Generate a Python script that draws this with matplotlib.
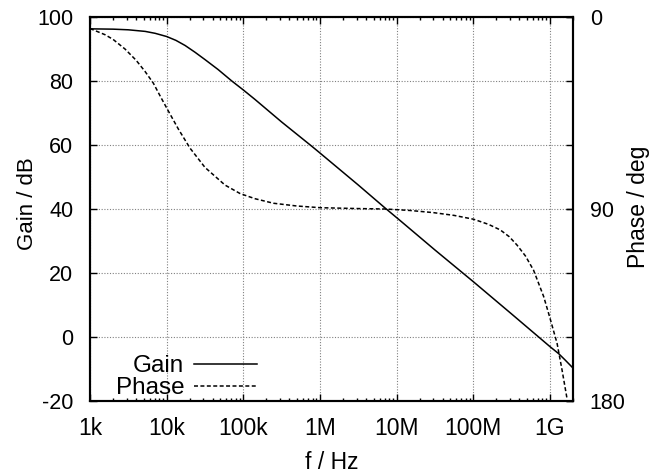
import matplotlib
matplotlib.use("Agg")
import matplotlib.pyplot as plt
from matplotlib.ticker import FixedLocator, LogLocator, NullFormatter

plt.rcParams['font.family'] = ['Liberation Sans', 'DejaVu Sans']
plt.rcParams['axes.unicode_minus'] = False

# ---- data ----
gain_freq = [1e3, 2e3, 3.16e3, 5.25e3, 7.08e3, 1e4, 1.32e4, 1.74e4, 2.34e4,
             3.16e4, 4.68e4, 7.08e4, 1e5, 1.41e5, 3.16e5, 7.83e5, 1e6, 3.16e6,
             7.08e6, 1.11e7, 3.16e7, 1e8, 3.16e8, 7.13e8, 1e9, 1.3e9, 1.58e9, 2e9]
gain_db = [96.3, 96.2, 96.0, 95.5, 94.9, 93.9, 92.7, 91.1, 89.0,
           86.7, 83.6, 80.0, 77.2, 74.3, 67.2, 59.6, 57.5, 47.5,
           40.3, 36.4, 27.2, 17.3, 7.2, 0.0, -3.0, -5.2, -7.2, -9.7]

phase_freq = [1e3, 1.57e3, 2e3, 2.86e3, 4e3, 5.22e3, 6.7e3, 8.3e3, 1.02e4, 1.42e4,
              2.02e4, 3.16e4, 5.78e4, 9.12e4, 1.43e5, 2.47e5, 5.01e5, 1.02e6,
              3.16e6, 7.08e6, 1.51e7, 3.02e7, 5.62e7, 1.01e8, 1.58e8, 2.25e8,
              2.95e8, 3.72e8, 4.79e8, 6.12e8, 8.28e8, 9.9e8, 1.24e9, 1.44e9, 1.67e9]
phase_deg = [5.4, 8.3, 10.5, 15.0, 20.3, 25.5, 31.0, 37.3, 43.2, 52.5,
             61.5, 70.5, 78.8, 82.8, 85.2, 87.3, 88.6, 89.4,
             89.8, 90.0, 90.7, 91.7, 93.0, 94.8, 97.2, 99.8,
             103.0, 106.9, 112.0, 118.7, 131.0, 140.5, 153.0, 165.5, 178.8]

x_ticks = [1e3, 1e4, 1e5, 1e6, 1e7, 1e8, 1e9]
x_ticklabels = ['1k', '10k', '100k', '1M', '10M', '100M', '1G']
y_ticks = [-20, 0, 20, 40, 60, 80, 100]
y2_ticks = [0, 90, 180]

fig = plt.figure(figsize=(6.64, 4.76), dpi=100)
ax = fig.add_axes([90/664, 1-401/476, 483/664, 384/476])
ax2 = ax.twinx()

l1, = ax.plot(gain_freq, gain_db, color='black', lw=1.1, label='Gain')
l2, = ax2.plot(phase_freq, phase_deg, color='black', lw=1.1,
               linestyle=(0, (2.6, 1.6)), label='Phase')

ax.set_xscale('log')
ax.set_xlim(1e3, 2e9)
ax.set_ylim(-20, 100)
ax2.set_ylim(180, 0)

ax.xaxis.set_major_locator(FixedLocator(x_ticks))
ax.set_xticklabels(x_ticklabels)
ax.xaxis.set_minor_locator(LogLocator(base=10, subs=range(2, 10), numticks=20))
ax.xaxis.set_minor_formatter(NullFormatter())
ax.set_yticks(y_ticks)
ax2.set_yticks(y2_ticks)

ax.grid(True, which='major', color='#808080', linestyle=(0, (1, 1.5)), lw=0.8)
ax.set_axisbelow(True)

ax.tick_params(axis='x', which='major', direction='in', top=True, length=5,
               width=1, labelsize=16.5, pad=11.5)
ax.tick_params(axis='x', which='minor', direction='in', top=True, length=2.5, width=1)
ax.tick_params(axis='y', which='major', direction='in', right=True, length=5,
               width=1, labelsize=15.5, pad=12)
ax2.tick_params(axis='y', which='major', direction='in', length=5, width=1,
                labelsize=15.5, pad=12)

for a in (ax, ax2):
    for s in a.spines.values():
        s.set_linewidth(1.5)

ax.set_xlabel('f / Hz', fontsize=16.5)
ax.set_ylabel('Gain / dB', fontsize=16)
ax2.set_ylabel('Phase / deg', fontsize=16.5)
ax.xaxis.set_label_coords(0.5, -0.13)
ax.yaxis.set_label_coords(-0.108, 0.515)
ax2.yaxis.set_label_coords(1.111, 0.505)

leg = ax2.legend(handles=[l1, l2], loc='lower right', bbox_to_anchor=(0.346, 0.005),
                 frameon=False, markerfirst=False, fontsize=17.5, handlelength=2.6,
                 handletextpad=0.4, labelspacing=0.0, borderpad=0, borderaxespad=0)

fig.savefig('out.png', dpi=100)
